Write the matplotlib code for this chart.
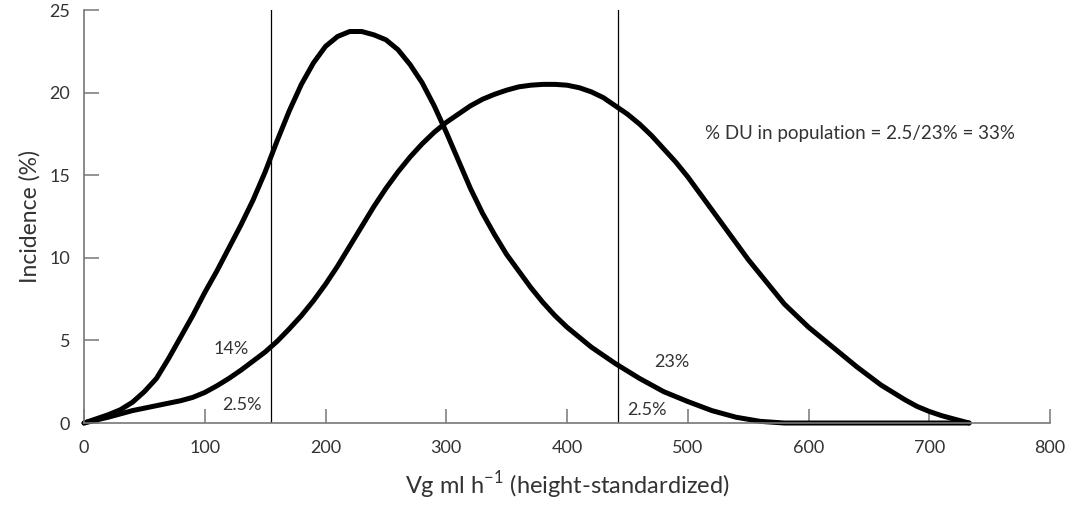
import matplotlib
matplotlib.use("Agg")
import matplotlib.pyplot as plt

plt.rcParams['font.family'] = ['Lato', 'DejaVu Sans']
plt.rcParams['mathtext.fontset'] = 'custom'
plt.rcParams['mathtext.rm'] = 'Lato'

# narrow (left) distribution
x_a = [0, 10, 20, 30, 40, 50, 60, 70, 80, 90, 100, 110, 120, 130, 140, 150, 160,
       170, 180, 190, 200, 210, 220, 230, 240, 250, 260, 270, 280, 290, 300, 310,
       320, 330, 340, 350, 360, 370, 380, 390, 400, 420, 440, 460, 480, 500, 520,
       540, 560, 580, 600, 650, 700, 733]
y_a = [0, 0.25, 0.5, 0.8, 1.25, 1.9, 2.7, 3.9, 5.2, 6.5, 7.9, 9.2, 10.6, 12.0,
       13.5, 15.2, 17.1, 18.9, 20.5, 21.8, 22.8, 23.4, 23.7, 23.7, 23.5, 23.2, 22.6,
       21.7, 20.6, 19.2, 17.6, 15.9, 14.2, 12.7, 11.4, 10.2, 9.2, 8.2, 7.3, 6.5, 5.8,
       4.6, 3.6, 2.7, 1.9, 1.3, 0.75, 0.35, 0.1, 0.0, 0.0, 0.0, 0.0, 0.0]

# wide (right) distribution
x_b = [0, 10, 20, 30, 40, 50, 60, 70, 80, 90, 100, 110, 120, 130, 140, 150, 160,
       170, 180, 190, 200, 210, 220, 230, 240, 250, 260, 270, 280, 290, 300, 310,
       320, 330, 340, 350, 360, 370, 380, 390, 400, 410, 420, 430, 440, 450, 460,
       470, 480, 490, 500, 510, 520, 530, 540, 550, 560, 570, 580, 590, 600, 610,
       620, 630, 640, 650, 660, 670, 680, 690, 700, 710, 720, 733]
y_b = [0, 0.18, 0.35, 0.55, 0.75, 0.9, 1.05, 1.2, 1.35, 1.55, 1.85, 2.25, 2.7,
       3.2, 3.75, 4.3, 4.95, 5.7, 6.5, 7.4, 8.4, 9.5, 10.7, 11.9, 13.1, 14.2, 15.2,
       16.1, 16.9, 17.6, 18.2, 18.7, 19.2, 19.6, 19.9, 20.15, 20.35, 20.45, 20.5,
       20.5, 20.45, 20.3, 20.05, 19.7, 19.2, 18.7, 18.1, 17.4, 16.6, 15.8, 14.9,
       13.9, 12.9, 11.9, 10.9, 9.9, 9.0, 8.1, 7.2, 6.5, 5.8, 5.2, 4.6, 4.0, 3.4,
       2.85, 2.3, 1.85, 1.4, 1.0, 0.7, 0.45, 0.25, 0.0]

cutoffs = [155, 442]
x_ticks = [0, 100, 200, 300, 400, 500, 600, 700, 800]
y_ticks = [0, 5, 10, 15, 20, 25]

txt = '#333333'
grey = '#777777'

fig = plt.figure(figsize=(10.87, 5.12), dpi=100)
ax = fig.add_axes([0.0773, 0.1738, 0.8887, 0.8066])

for c in cutoffs:
    ax.plot([c, c], [0, 25], color='black', lw=0.9)

ax.plot(x_a, y_a, color='black', lw=3.6, solid_capstyle='round',
        solid_joinstyle='round', clip_on=False)
ax.plot(x_b, y_b, color='black', lw=3.6, solid_capstyle='round',
        solid_joinstyle='round', clip_on=False)

ax.set_xlim(0, 800)
ax.set_ylim(0, 25)
ax.set_xticks(x_ticks)
ax.set_yticks(y_ticks)
for s in ['top', 'right']:
    ax.spines[s].set_visible(False)
for s in ['left', 'bottom']:
    ax.spines[s].set_color(grey)
    ax.spines[s].set_linewidth(1.2)
ax.tick_params(axis='both', direction='in', colors=grey, labelcolor=txt,
               labelsize=13, width=1.1)
ax.tick_params(axis='y', length=11, pad=10)
ax.tick_params(axis='x', length=10, pad=12)

ax.set_ylabel('Incidence (%)', fontsize=16.5, color=txt, labelpad=6)
ax.set_xlabel('Vg ml h$^{-1}$ (height-standardized)', fontsize=17, color=txt,
              labelpad=10)

ax.text(122, 4.5, '14%', ha='center', va='center', fontsize=13, color=txt)
ax.text(131, 1.1, '2.5%', ha='center', va='center', fontsize=13, color=txt)
ax.text(487, 3.7, '23%', ha='center', va='center', fontsize=13, color=txt)
ax.text(466, 0.8, '2.5%', ha='center', va='center', fontsize=13, color=txt)
ax.text(514, 17.5, '% DU in population = 2.5/23% = 33%', ha='left', va='center',
        fontsize=13.5, color=txt)

fig.savefig('out.png', dpi=100)
